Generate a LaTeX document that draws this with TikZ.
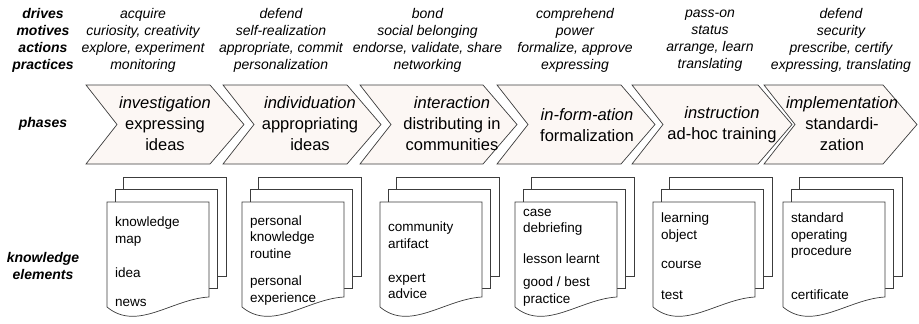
\documentclass[tikz,border=0pt]{standalone}
\usepackage{fontspec}
\setmainfont{Liberation Sans}
\usetikzlibrary{positioning}
\definecolor{PhaseFill}{RGB}{252,247,244}
\definecolor{Edge}{RGB}{60,60,60}
\tikzstyle{Row} = [font=\fontsize{14}{17}\selectfont\bfseries\itshape, align=center, inner sep=0pt]
\tikzstyle{Column} = [font=\fontsize{14}{17}\selectfont\itshape, align=center, inner sep=0pt]
\tikzstyle{Phase} = [draw=Edge, fill=PhaseFill, line width=0.7pt, line join=miter]
\tikzstyle{PhaseText} = [font=\fontsize{16.5}{21}\selectfont, align=center, inner sep=0pt]
\tikzstyle{Page} = [draw=Edge, fill=white, line width=0.7pt]
\tikzstyle{Item} = [font=\fontsize{13.5}{16.5}\selectfont, align=left, anchor=west, inner sep=0pt]

\begin{document}
\begin{tikzpicture}[x=1pt, y=-1pt]
    \useasboundingbox (0,0) rectangle (919,324);
    % row labels
    \node[Row] (rows)      at (43,40.5) {drives\\motives\\actions\\practices};
    \node[Row] (phases)    at (43,124)  {phases};
    \node[Row] (elements)  at (43,266)  {knowledge\\elements};
    % drives, motives, actions, practices
    \node[Column] (drv1) at (143,40.5)   {acquire\\curiosity, creativity\\explore, experiment\\monitoring};
    \node[Column] (drv2) at (281,40.5)   {defend\\self-realization\\appropriate, commit\\personalization};
    \node[Column] (drv3) at (427.5,40.5) {bond\\social belonging\\endorse, validate, share\\networking};
    \node[Column] (drv4) at (575,40.5)   {comprehend\\power\\formalize, approve\\expressing};
    \node[Column] (drv5) at (710,40.5)   {pass-on\\status\\arrange, learn\\translating};
    \node[Column] (drv6) at (841,40.5)   {defend\\security\\prescribe, certify\\expressing, translating};
    % phases
    \foreach \l/\w in {86/158, 223/158, 360/157, 497/158, 632/160, 764/153}
      \draw[Phase] (\l,85) -- ({\l+\w-34},85) -- ({\l+\w},124.5) -- ({\l+\w-34},164)
                   -- (\l,164) -- ({\l+31},124.5) -- cycle;
    \node[PhaseText] (phase1) at (165,124) {\textit{investigation}\\expressing\\ideas};
    \node[PhaseText] (phase2) at (310,124) {\textit{individuation}\\appropriating\\ideas};
    \node[PhaseText] (phase3) at (452,124) {\textit{interaction}\\distributing in\\communities};
    \node[PhaseText] (phase4) at (587,125) {\textit{in-form-ation}\\formalization};
    \node[PhaseText] (phase5) at (722,125) {\textit{instruction}\\ad-hoc training};
    \node[PhaseText] (phase6) at (842,124) {\textit{implementation}\\standardi-\\zation};
    % knowledge elements
    \foreach \l in {107, 242, 380, 515, 653, 783} {
      \draw[Page] ({\l+16},177) rectangle ({\l+119},276);
      \draw[Page] ({\l+8},189.5) rectangle ({\l+110},288);
      \draw[Page] (\l,202) -- ({\l+102},202) -- ({\l+102},297)
                  .. controls ({\l+65},299) and ({\l+30},332) .. (\l,307) -- cycle;
    }
    \node[Item] (map)       at (115,231.5) {knowledge\\map};
    \node[Item] (idea)      at (115,273)   {idea};
    \node[Item] (news)      at (115,303)   {news};
    \node[Item] (routine)   at (250,237)   {personal\\knowledge\\routine};
    \node[Item] (personal)  at (250,290.5) {personal\\experience};
    \node[Item] (artifact)  at (388,235)   {community\\artifact};
    \node[Item] (expert)    at (388,286)   {expert\\advice};
    \node[Item] (debrief)   at (523,222.5) {case\\debriefing};
    \node[Item] (lesson)    at (523,259)   {lesson learnt};
    \node[Item] (practice)  at (523,291.5) {good / best\\practice};
    \node[Item] (object)    at (661,227.5) {learning\\object};
    \node[Item] (course)    at (661,265)   {course};
    \node[Item] (test)      at (661,295)   {test};
    \node[Item] (procedure) at (791,236)   {standard\\operating\\procedure};
    \node[Item] (cert)      at (791,295)   {certificate};
  \end{tikzpicture}
\end{document}
